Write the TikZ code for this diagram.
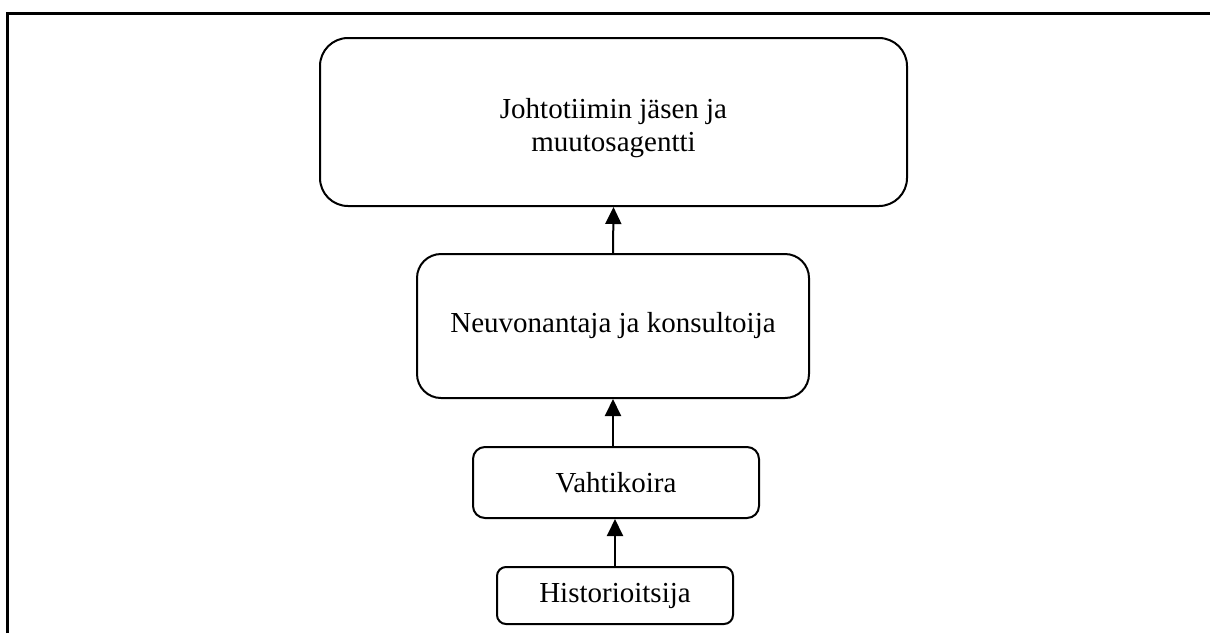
\documentclass[tikz,border=0pt]{standalone}
\usepackage{fontspec}
\setmainfont{Liberation Serif}
\usetikzlibrary{arrows.meta}
\tikzstyle{rolebox}=[draw, line width=2pt, align=center, inner sep=0pt, font=\fontsize{29}{33}\selectfont]
\tikzstyle{uparrow}=[line width=2pt, -{Triangle[length=17pt, width=16pt]}]

\begin{document}
\begin{tikzpicture}[x=1pt, y=-1pt]
                \useasboundingbox (0, 0) rectangle (1210, 633);
                \draw[line width=3pt] (7, 633) -- (7, 13) -- (1210, 13);
                \node[rolebox, rounded corners=28pt, minimum width=587pt, minimum height=168pt] (lead) at (613.5, 122) {\rule{0pt}{33pt}Johtotiimin jäsen ja\\muutosagentti};
                \node[rolebox, rounded corners=24pt, minimum width=392pt, minimum height=144pt] (advice) at (613, 326) {Neuvonantaja ja konsultoija};
                \node[rolebox, rounded corners=12pt, minimum width=286pt, minimum height=71pt] (watch) at (616, 482.5) {Vahtikoira};
                \node[rolebox, rounded corners=9pt, minimum width=236pt, minimum height=57pt] (hist) at (615, 595.5) {Historioitsija};
                \draw[uparrow] (hist.north) -- (hist.north |- watch.south);
                \draw[uparrow] (watch.north -| advice.south) -- (advice.south);
                \draw[uparrow] (advice.north) -- (lead.south);
            \end{tikzpicture}
\end{document}
